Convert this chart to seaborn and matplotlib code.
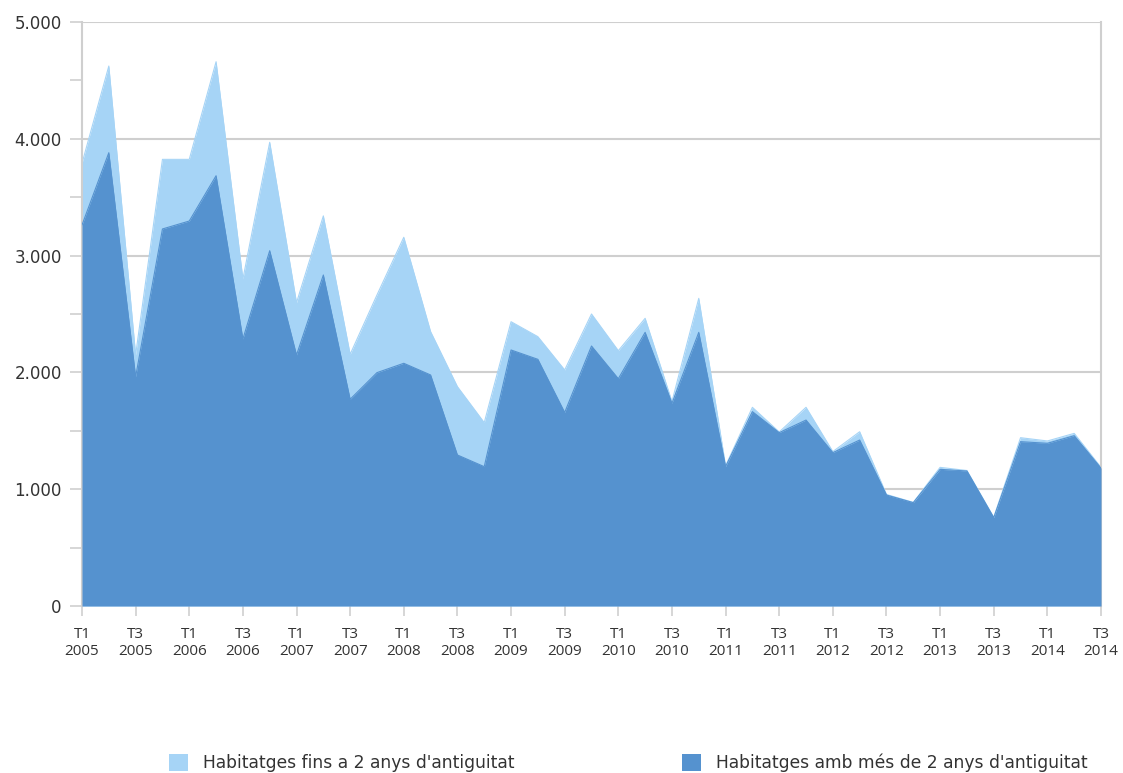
import matplotlib
matplotlib.use("Agg")
import matplotlib.pyplot as plt
from matplotlib.patches import Patch
from matplotlib.ticker import FuncFormatter, MultipleLocator
import numpy as np
import pandas as pd
import seaborn as sns

# Quarterly housing sales, T1 2005 – T3 2014
quarters = ["T1", "T2", "T3", "T4"]
start_year = 2005
n_quarters = 39

# Dwellings more than 2 years old
mes_de_2_anys = [3262, 3881, 1963, 3228, 3296, 3684, 2286, 3042, 2149, 2834,
                 1770, 1998, 2078, 1978, 1293, 1193, 2192, 2112, 1657, 2226,
                 1946, 2343, 1735, 2343, 1193, 1664, 1484, 1592, 1313, 1421,
                 950, 885, 1170, 1156, 756, 1407, 1393, 1458, 1180]
# Dwellings up to 2 years old (stacked on top)
fins_a_2_anys = [528, 742, 187, 596, 528, 976, 514, 928, 448, 506,
                 385, 665, 1079, 371, 585, 377, 242, 194, 364, 274,
                 240, 120, 15, 291, 7, 37, 6, 109, 9, 71,
                 5, 2, 17, 4, 4, 34, 20, 20, 7]

series_names = ["Habitatges fins a 2 anys d'antiguitat",
                "Habitatges amb més de 2 anys d'antiguitat"]
colors = {"light": "#a6d4f6", "dark": "#5592cf"}

labels = [f"{quarters[i % 4]}\n{start_year + i // 4}" for i in range(n_quarters)]
df = pd.DataFrame({
    "idx": np.arange(n_quarters),
    "older": mes_de_2_anys,
    "newer": fins_a_2_anys,
})
df["total"] = df["older"] + df["newer"]

sns.set_style("white")
plt.rcParams["font.family"] = ["Open Sans", "DejaVu Sans"]

fig = plt.figure(figsize=(11.23, 7.73), dpi=100)
ax = fig.add_axes([82 / 1123, 1 - 606 / 773, (1101 - 82) / 1123, (606 - 22) / 773])

ax.fill_between(df["idx"], 0, df["total"], color=colors["light"], linewidth=0, zorder=2)
ax.fill_between(df["idx"], 0, df["older"], color=colors["dark"], linewidth=0, zorder=3)
sns.lineplot(data=df, x="idx", y="total", ax=ax, color=colors["light"], linewidth=0.8, zorder=2)
sns.lineplot(data=df, x="idx", y="older", ax=ax, color=colors["dark"], linewidth=0.8, zorder=3)

ax.set_xlim(0, n_quarters - 1)
ax.set_ylim(0, 5000)
ax.set_xlabel("")
ax.set_ylabel("")

grid_c = "#cfcfcf"
text_c = "#333333"
ax.yaxis.set_major_locator(MultipleLocator(1000))
ax.yaxis.set_minor_locator(MultipleLocator(500))
ax.yaxis.set_major_formatter(FuncFormatter(lambda v, p: f"{int(v):,}".replace(",", ".")))
ax.grid(axis="y", which="major", color=grid_c, linewidth=1.5, zorder=0)
ax.set_axisbelow(True)

tick_pos = list(range(0, n_quarters, 2))
ax.set_xticks(tick_pos)
ax.set_xticklabels([labels[i] for i in tick_pos], fontsize=11, color=text_c, linespacing=1.2)
ax.tick_params(axis="x", which="major", bottom=True, length=7, width=1.2, color=grid_c, pad=8)
ax.tick_params(axis="y", which="both", left=True, length=8.5, width=1.2, color=grid_c, pad=6,
               labelcolor=text_c)
for t in ax.get_yticklabels():
    t.set_family("DejaVu Sans")
    t.set_fontsize(12)

for side in ["top", "bottom"]:
    ax.spines[side].set_visible(False)
for side in ["left", "right"]:
    ax.spines[side].set_visible(True)
    ax.spines[side].set_color(grid_c)
    ax.spines[side].set_linewidth(1.5)

handles = [Patch(facecolor=colors["light"], edgecolor="none"),
           Patch(facecolor=colors["dark"], edgecolor="none")]
leg = fig.legend(handles, series_names, loc="center", bbox_to_anchor=(0.5597, 0.013),
                 ncol=2, frameon=False, prop={"family": "DejaVu Sans", "size": 12.3},
                 labelcolor=text_c, handlelength=1.1, handleheight=1.1,
                 handletextpad=0.88, columnspacing=9.8)

fig.savefig("out.png", dpi=100)
